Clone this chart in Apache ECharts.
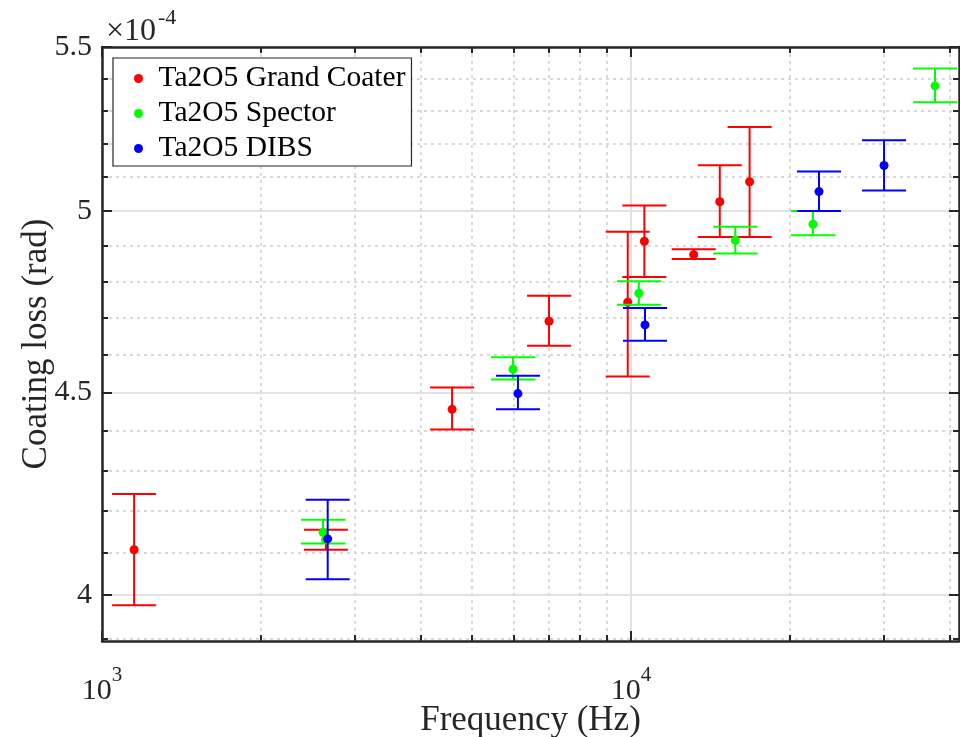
<!DOCTYPE html>
<html>
<head>
<meta charset="utf-8">
<script src="https://cdn.jsdelivr.net/npm/echarts@6/dist/echarts.min.js"></script>
<style>
  html, body { margin: 0; padding: 0; background: #ffffff; }
  #chart { width: 960px; height: 737px; }
</style>
</head>
<body>
<div id="chart"></div>
<script>
// Mechanical loss of Ta2O5 coatings vs. resonance frequency (loss in units of 1e-4 rad)
const seriesNames = ['Ta2O5 Grand Coater', 'Ta2O5 Spector', 'Ta2O5 DIBS'];
const seriesColors = ['#ff0000', '#00ff00', '#0000ff'];

const grandCoaterFreq = [1150, 2650, 4590, 7000, 9860, 10600, 13140, 14720, 16760];
const grandCoaterLoss = [4.107, 4.131, 4.456, 4.690, 4.742, 4.913, 4.875, 5.027, 5.086];
const grandCoaterLow  = [3.977, 4.107, 4.404, 4.624, 4.542, 4.812, 4.863, 4.925, 4.925];
const grandCoaterHigh = [4.242, 4.155, 4.513, 4.760, 4.940, 5.016, 4.890, 5.135, 5.250];

const spectorFreq = [2617, 5983, 10350, 15750, 22080, 37560];
const spectorLoss = [4.149, 4.561, 4.767, 4.916, 4.962, 5.377];
const spectorLow  = [4.122, 4.534, 4.735, 4.878, 4.930, 5.326];
const spectorHigh = [4.179, 4.593, 4.800, 4.955, 5.000, 5.432];

const dibsFreq = [2671, 6114, 10630, 22670, 30090];
const dibsLoss = [4.133, 4.497, 4.680, 5.057, 5.134];
const dibsLow  = [4.037, 4.456, 4.637, 5.000, 5.060];
const dibsHigh = [4.228, 4.544, 4.726, 5.116, 5.210];

// Axis ranges and tick positions
const xRange = [1000, 41700];
const yRange = [3.895, 5.5];
const xMajorTicks = [1000, 10000];
const xMinorTicks = [2000, 3000, 4000, 5000, 6000, 7000, 8000, 9000, 20000, 30000, 40000];
const yMajorTicks = [4, 4.5, 5, 5.5];
const yMinorTicks = [3.9, 4.1, 4.2, 4.3, 4.4, 4.6, 4.7, 4.8, 4.9, 5.1, 5.2, 5.3, 5.4];
const xTitle = 'Frequency (Hz)';
const yTitle = 'Coating loss (rad)';
const yScaleNote = ['×10', '-4'];

const FONT = 'Liberation Serif';
const INK = '#262626';
const CAP_HALF = 22;
const TICK_FONT = 30;

function logAxis(kind, opts) {
  const range = kind === 'x' ? xRange : yRange;
  return Object.assign({
    type: 'log',
    logBase: 10,
    min: range[0],
    max: range[1],
    gridIndex: 0,
    axisLine: { show: false, onZero: false },
    axisTick: { show: false },
    axisLabel: { show: false },
    splitLine: { show: false },
    minorTick: { show: false },
    minorSplitLine: { show: false }
  }, opts);
}

const tickStyle = { color: INK, width: 2 };
const majorGrid = { show: true, lineStyle: { color: '#e2e2e2', width: 2 } };
const minorGrid = { show: true, lineStyle: { color: '#d9d9d9', width: 2, type: [3, 4] } };

const xAxes = [
  logAxis('x', {
    position: 'bottom',
    name: xTitle,
    nameLocation: 'middle',
    nameGap: 62,
    nameMoveOverlap: false,
    nameTextStyle: { fontFamily: FONT, fontSize: 35, color: INK },
    axisLine: { show: true, onZero: false, lineStyle: { color: INK, width: 2.5 } },
    axisTick: { show: true, inside: true, length: 10, customValues: xMajorTicks, lineStyle: tickStyle },
    axisLabel: {
      show: true,
      customValues: xMajorTicks,
      margin: 30,
      formatter: v => '{b|10}{s|' + Math.round(Math.log10(v)) + '}',
      rich: {
        b: { fontFamily: FONT, fontSize: TICK_FONT, color: INK, lineHeight: 40 },
        s: { fontFamily: FONT, fontSize: 21, color: INK, lineHeight: 40, padding: [0, 0, 31, 0] }
      }
    },
    splitLine: majorGrid
  }),
  logAxis('x', {
    position: 'bottom',
    axisTick: { show: true, inside: true, length: 6, customValues: xMinorTicks, lineStyle: tickStyle },
    splitLine: minorGrid
  }),
  logAxis('x', {
    position: 'top',
    axisLine: { show: true, onZero: false, lineStyle: { color: INK, width: 2.5 } },
    axisTick: { show: true, inside: true, length: 10, customValues: xMajorTicks, lineStyle: tickStyle }
  }),
  logAxis('x', {
    position: 'top',
    axisTick: { show: true, inside: true, length: 6, customValues: xMinorTicks, lineStyle: tickStyle }
  })
];

const yAxes = [
  logAxis('y', {
    position: 'left',
    name: yTitle,
    nameLocation: 'middle',
    nameGap: 48,
    nameMoveOverlap: false,
    nameRotate: 90,
    nameTextStyle: { fontFamily: FONT, fontSize: 35, color: INK },
    axisLine: { show: true, onZero: false, lineStyle: { color: INK, width: 2.5 } },
    axisTick: { show: true, inside: true, length: 10, customValues: yMajorTicks, lineStyle: tickStyle },
    axisLabel: {
      show: true,
      customValues: yMajorTicks,
      margin: 10,
      fontFamily: FONT, fontSize: TICK_FONT, color: INK,
      formatter: v => String(Math.round(v * 10) / 10)
    },
    splitLine: majorGrid
  }),
  logAxis('y', {
    position: 'left',
    axisTick: { show: true, inside: true, length: 6, customValues: yMinorTicks, lineStyle: tickStyle },
    splitLine: minorGrid
  }),
  logAxis('y', {
    position: 'right',
    axisLine: { show: true, onZero: false, lineStyle: { color: INK, width: 2.5 } },
    axisTick: { show: true, inside: true, length: 10, customValues: yMajorTicks, lineStyle: tickStyle }
  }),
  logAxis('y', {
    position: 'right',
    axisTick: { show: true, inside: true, length: 6, customValues: yMinorTicks, lineStyle: tickStyle }
  })
];

// Error bar series: vertical bar, two caps, and a filled dot at the measured value
function errorBarSeries(name, color, freq, loss, low, high) {
  return {
    type: 'custom',
    name: name,
    coordinateSystem: 'cartesian2d',
    xAxisIndex: 0,
    yAxisIndex: 0,
    clip: true,
    itemStyle: { color: color },
    encode: { x: 0, y: 1 },
    data: freq.map((f, i) => [f, loss[i], low[i], high[i]]),
    renderItem: function (params, api) {
      const f = api.value(0);
      const c = api.coord([f, api.value(1)]);
      const lo = api.coord([f, api.value(2)]);
      const hi = api.coord([f, api.value(3)]);
      const stroke = { stroke: color, lineWidth: 2 };
      return {
        type: 'group',
        children: [
          { type: 'line', shape: { x1: c[0], y1: lo[1], x2: c[0], y2: hi[1] }, style: stroke },
          { type: 'line', shape: { x1: c[0] - CAP_HALF, y1: lo[1], x2: c[0] + CAP_HALF, y2: lo[1] }, style: stroke },
          { type: 'line', shape: { x1: c[0] - CAP_HALF, y1: hi[1], x2: c[0] + CAP_HALF, y2: hi[1] }, style: stroke },
          { type: 'circle', shape: { cx: c[0], cy: c[1], r: 4.5 }, style: { fill: color } }
        ]
      };
    }
  };
}

const chart = echarts.init(document.getElementById('chart'), null, { renderer: 'canvas' });
chart.setOption({
  animation: false,
  backgroundColor: '#ffffff',
  grid: { left: 102, right: 1, top: 47, bottom: 96, containLabel: false, outerBoundsMode: 'none' },
  xAxis: xAxes,
  yAxis: yAxes,
  legend: {
    orient: 'vertical',
    left: 113,
    top: 58,
    padding: [3, 6, 0, 21],
    itemGap: 0,
    itemWidth: 30,
    itemHeight: 9,
    icon: 'circle',
    backgroundColor: '#ffffff',
    borderColor: INK,
    borderWidth: 1.2,
    borderRadius: 0,
    z: 10,
    selectedMode: false,
    textStyle: { fontFamily: FONT, fontSize: 29.5, color: '#000000', lineHeight: 35 },
    data: seriesNames
  },
  graphic: [
    { type: 'text', x: 106, y: 32, style: { text: yScaleNote[0], fontFamily: FONT, fontSize: 32, fill: INK, verticalAlign: 'middle' } },
    { type: 'text', x: 158, y: 18, style: { text: yScaleNote[1], fontFamily: FONT, fontSize: 22, fill: INK, verticalAlign: 'middle' } }
  ],
  series: [
    errorBarSeries(seriesNames[0], seriesColors[0], grandCoaterFreq, grandCoaterLoss, grandCoaterLow, grandCoaterHigh),
    errorBarSeries(seriesNames[1], seriesColors[1], spectorFreq, spectorLoss, spectorLow, spectorHigh),
    errorBarSeries(seriesNames[2], seriesColors[2], dibsFreq, dibsLoss, dibsLow, dibsHigh)
  ]
});
</script>
</body>
</html>
